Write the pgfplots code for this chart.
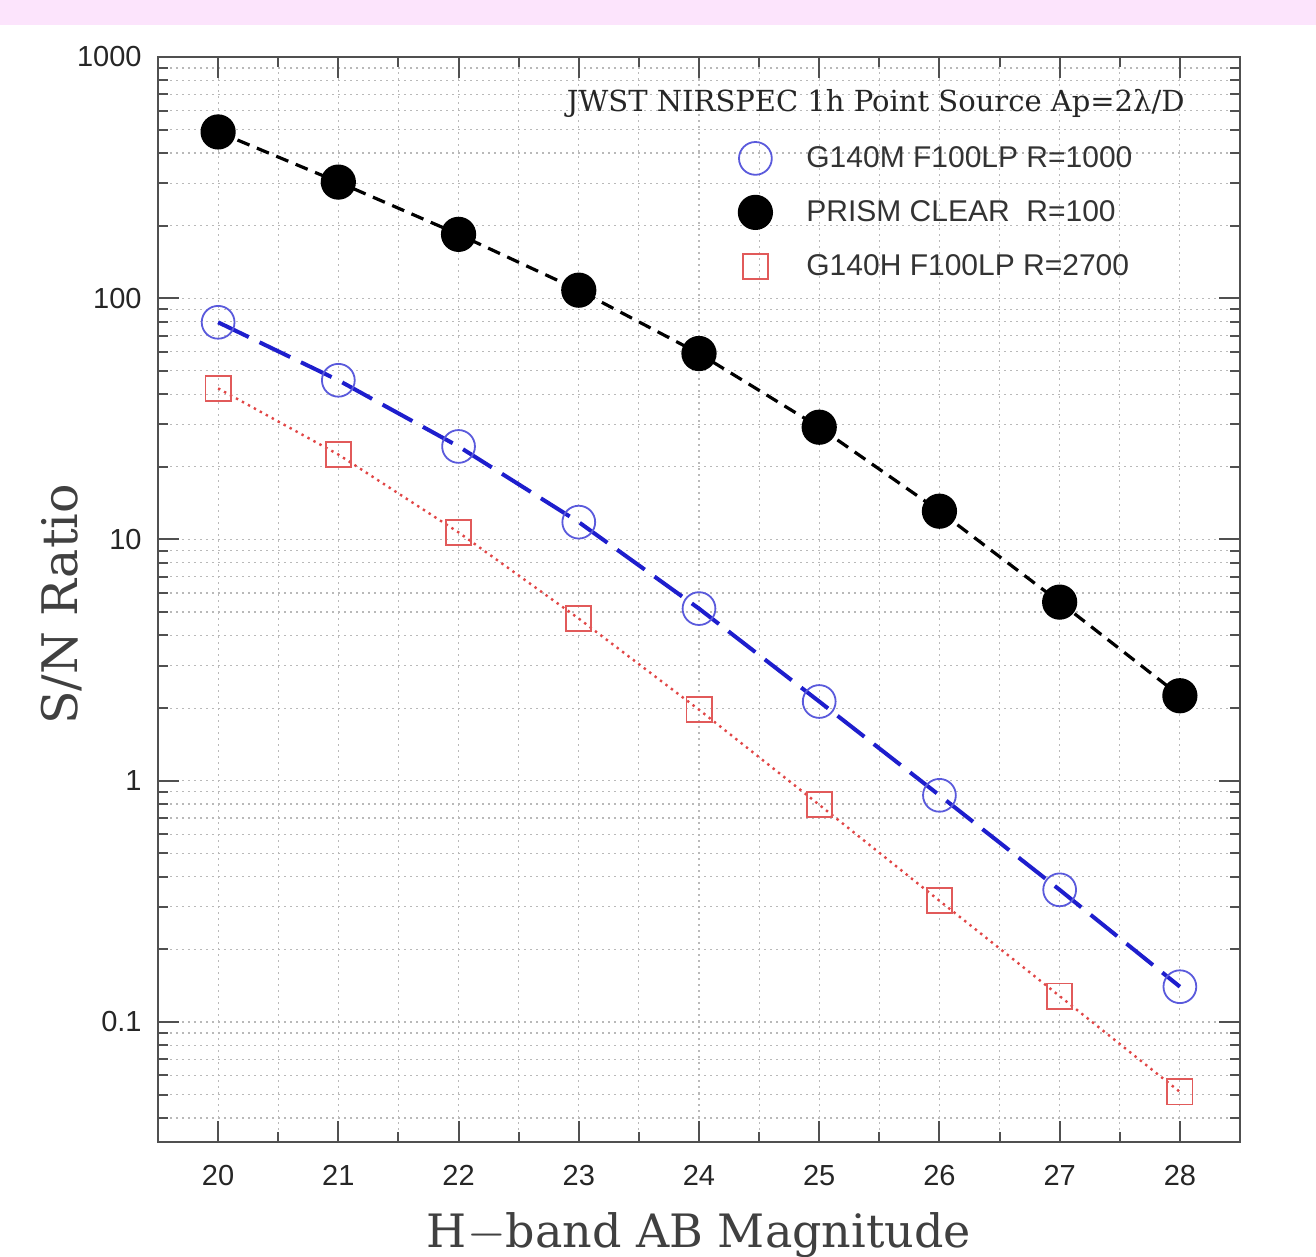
\documentclass[border=0pt]{standalone}
\usepackage{fontspec}
\usepackage{pgfplots}
\pgfplotsset{compat=1.18}
\newfontfamily\arialf{Liberation Sans}
\newfontfamily\serif{DejaVu Serif}
\definecolor{pinkband}{RGB}{252,228,252}
\definecolor{axisgray}{RGB}{80,80,80}
\definecolor{gridgray}{RGB}{185,185,185}
\definecolor{lineblue}{RGB}{30,30,205}
\definecolor{markblue}{RGB}{90,90,220}
\definecolor{linered}{RGB}{225,70,70}
\definecolor{markred}{RGB}{225,90,90}
\begin{document}
\begin{tikzpicture}
\useasboundingbox (-79pt,-57.5pt) rectangle (579pt,571pt);
\fill[pinkband] (-79pt,558.5pt) rectangle (579pt,571pt);
\begin{axis}[
  at={(0pt,0pt)}, anchor=south west,
  scale only axis, width=541pt, height=542.5pt,
  xmin=19.5, xmax=28.5,
  ymode=log, ymin=0.0318, ymax=1000,
  xtick={20,21,22,23,24,25,26,27,28},
  minor x tick num=1,
  ytick={0.1,1,10,100,1000},
  yticklabels={0.1,1,10,100,1000},
  minor ytick={0.04,0.05,0.06,0.07,0.08,0.09,0.2,0.3,0.4,0.5,0.6,0.7,0.8,0.9,2,3,4,5,6,7,8,9,20,30,40,50,60,70,80,90,200,300,400,500,600,700,800,900},
  grid=both,
  major grid style={gridgray, line width=0.6pt, dash pattern=on 1pt off 2pt},
  minor grid style={gridgray, line width=0.6pt, dash pattern=on 1pt off 2pt},
  axis line style={axisgray, line width=1.3pt},
  every tick/.style={axisgray, line width=1pt},
  major tick length=10.5pt, minor tick length=5pt,
  tick align=inside,
  tick pos=both,
  /pgf/number format/assume math mode=true,
  ticklabel style={font=\arialf\fontsize{14.5}{17}\selectfont, text=black!85, inner sep=0pt},
  xticklabel style={yshift=-11.5pt},
  yticklabel style={xshift=-8pt},
  xlabel={H$-$band AB Magnitude},
  ylabel={S/N Ratio},
  xlabel style={font=\serif\fontsize{23}{26}\selectfont, text=black!75, at={(axis description cs:0.5,0)}, anchor=north, inner sep=0pt, yshift=-35pt},
  ylabel style={font=\serif\fontsize{24.5}{28}\selectfont, text=black!75, at={(axis description cs:-0.0887,0.4955)}, anchor=center, inner sep=0pt, rotate=0},
  legend style={at={(axis description cs:0,1)}, anchor=north west, xshift=289.5pt, yshift=-41.5pt,
    draw=none, fill=none, inner sep=0pt, row sep=9pt, column sep=0pt,
    nodes={inner sep=0pt}, font=\arialf\fontsize{15}{18}\selectfont, text=black!80},
  legend cell align=left,
  legend image code/.code={\path[draw=none,fill=none] (-9pt,-9pt) rectangle (25.5pt,9pt);
    \draw[#1] plot[only marks] coordinates {(0pt,0pt)};},
]
\addplot[lineblue, line width=2pt, dash pattern=on 17pt off 6pt,
  mark=o, mark size=8.2pt, mark options={solid, draw=markblue, line width=0.9pt}]
  coordinates {(20,79.5) (21,45.7) (22,24.3) (23,11.8) (24,5.17) (25,2.13) (26,0.87) (27,0.353) (28,0.140)};
\addlegendentry{G140M F100LP R=1000}
\addplot[black, line width=1.6pt, dash pattern=on 6.5pt off 4pt,
  mark=*, mark size=8pt, mark options={solid, fill=black}]
  coordinates {(20,489) (21,303) (22,184) (23,108) (24,59) (25,29.2) (26,13.1) (27,5.5) (28,2.25)};
\addlegendentry{PRISM CLEAR\ \ R=100}
\addplot[linered, line width=1.2pt, dash pattern=on 1.2pt off 2.2pt,
  mark=square, mark size=6.3pt, mark options={solid, draw=markred, line width=0.9pt}]
  coordinates {(20,42.3) (21,22.5) (22,10.7) (23,4.7) (24,1.97) (25,0.795) (26,0.318) (27,0.128) (28,0.0513)};
\addlegendentry{G140H F100LP R=2700}
\node[font=\serif\fontsize{14.5}{17}\selectfont, text=black!85, anchor=east, inner sep=0pt]
  at ([xshift=-27.5pt, yshift=-23pt]rel axis cs:1,1) {JWST NIRSPEC 1h Point Source Ap=2λ/D};
\end{axis}
\end{tikzpicture}
\end{document}
